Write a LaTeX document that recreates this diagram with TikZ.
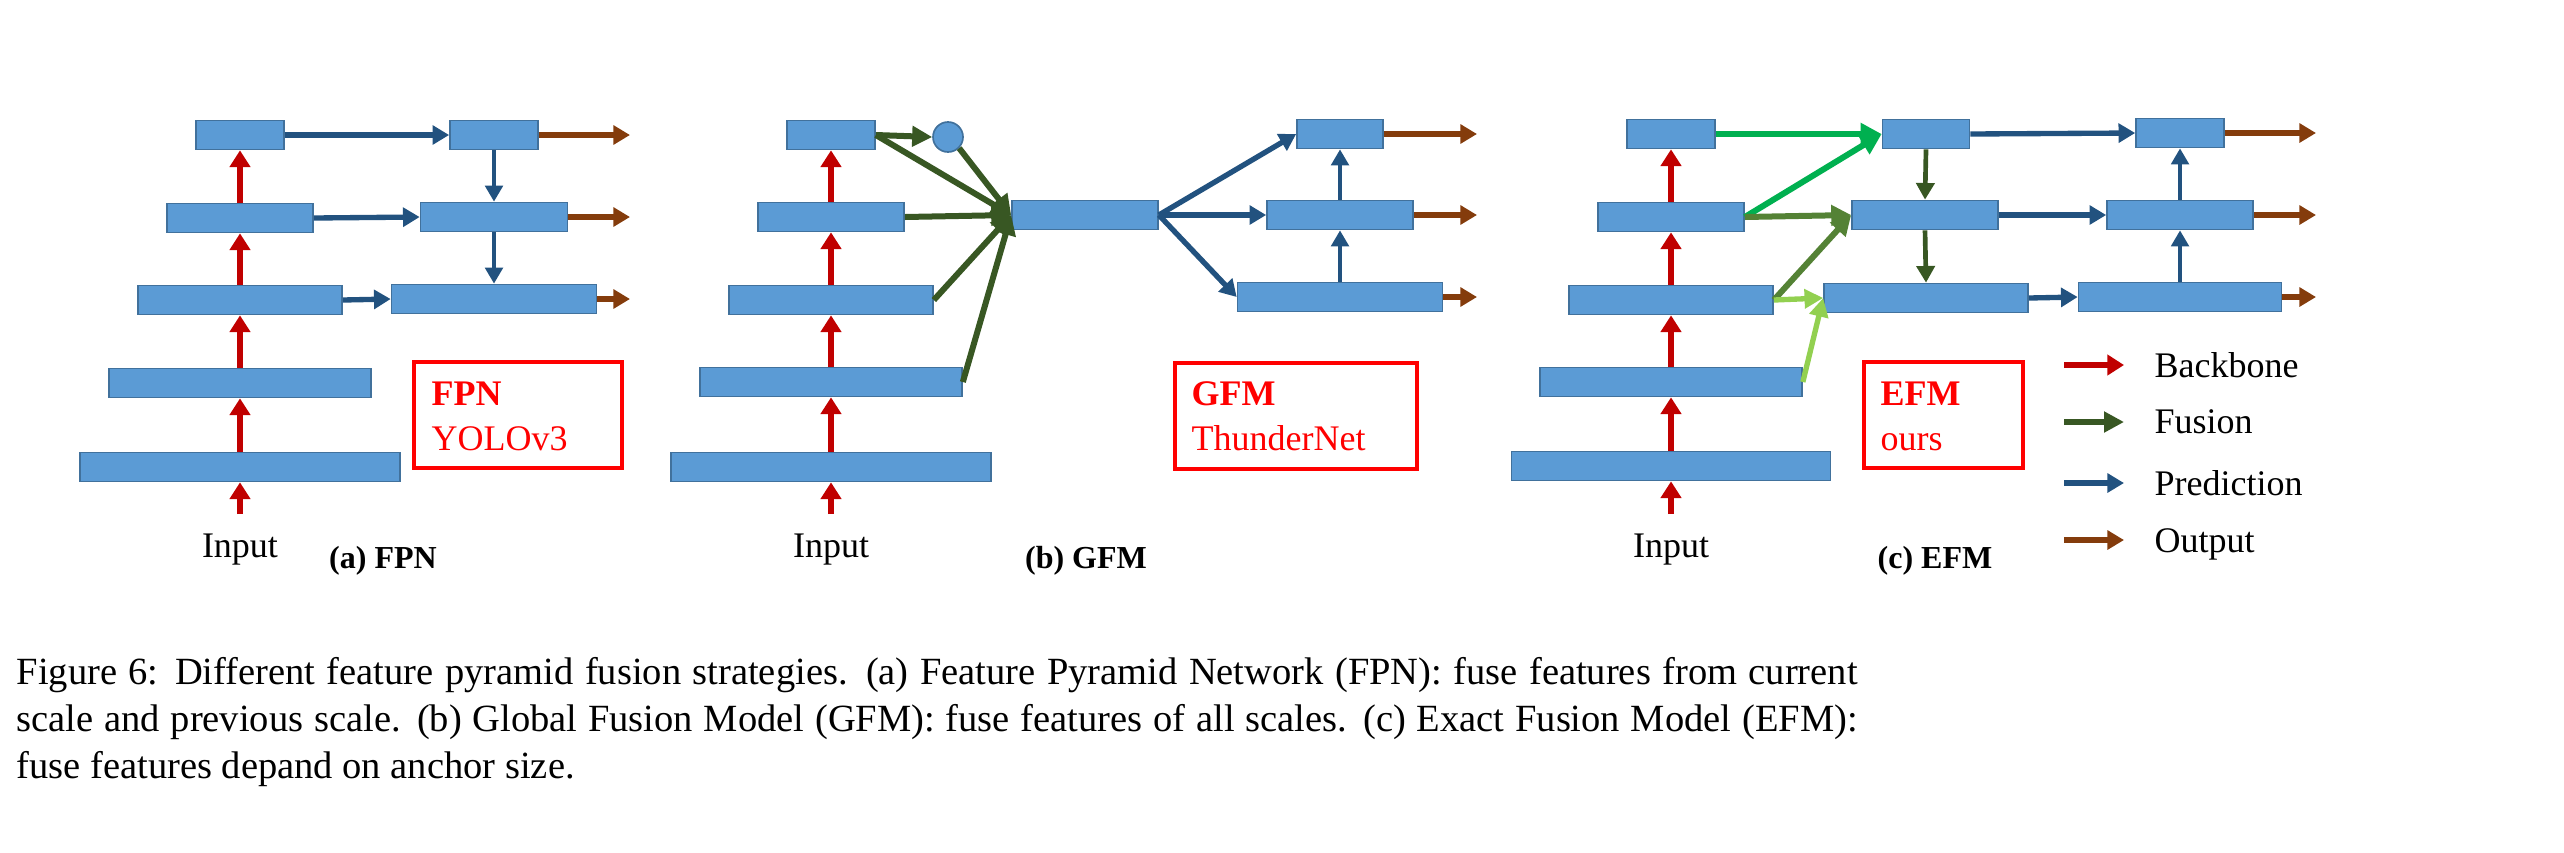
\documentclass[tikz,border=0pt]{standalone}
\usepackage{fontspec}
\setmainfont{Liberation Serif}
\usetikzlibrary{arrows.meta}
\definecolor{boxfill}{HTML}{5B9BD5}
\definecolor{boxline}{HTML}{41719C}
\definecolor{bbred}{HTML}{C00000}
\definecolor{fusgreen}{HTML}{385723}
\definecolor{predblue}{HTML}{22527F}
\definecolor{outbrown}{HTML}{843C0C}
\definecolor{brightgreen}{HTML}{00B050}
\definecolor{olivegreen}{HTML}{548235}
\definecolor{lightgreen}{HTML}{92D050}
\definecolor{boxred}{HTML}{FF0000}
\tikzset{
  fm/.style={draw=boxline, fill=boxfill, line width=0.5pt, inner sep=0pt, minimum height=8.7pt},
  bb/.style={draw=bbred, line width=1.8pt, -{Triangle[length=5pt,width=6pt]}},
  pr/.style={draw=predblue, line width=1.6pt, -{Triangle[length=5pt,width=5.6pt]}},
  prv/.style={draw=predblue, line width=1.2pt, -{Triangle[length=4.8pt,width=5.2pt]}},
  ou/.style={draw=outbrown, line width=1.6pt, -{Triangle[length=5pt,width=5.6pt]}},
  fu/.style={draw=fusgreen, line width=1.8pt, -{Triangle[length=6pt,width=6pt]}},
  fuv/.style={draw=fusgreen, line width=1.4pt, -{Triangle[length=5pt,width=5.4pt]}},
  fbright/.style={draw=brightgreen, line width=1.8pt, -{Triangle[length=6.3pt,width=6.3pt]}},
  folive/.style={draw=olivegreen, line width=1.8pt, -{Triangle[length=6pt,width=6pt]}},
  flight/.style={draw=lightgreen, line width=1.6pt, -{Triangle[length=5.6pt,width=5.6pt]}},
  redbox/.style={draw=boxred, line width=1.2pt, inner sep=0pt},
  lbl/.style={font=\fontsize{10.8pt}{13pt}\selectfont, inner sep=0pt},
  redlbl/.style={lbl, text=boxred},
  redbold/.style={lbl, text=boxred, font=\bfseries\fontsize{10.8pt}{13pt}\selectfont},
  ttl/.style={font=\bfseries\fontsize{9.6pt}{11pt}\selectfont, inner sep=0pt},
}
\newcommand\fmbox[4]{\node[fm, minimum width=#4*0.3pt] (#1) at (#2,#3) {};}
\begin{document}
\begin{tikzpicture}[x=0.3pt, y=-0.3pt]
\useasboundingbox (0,0) rectangle (2564,852);

% ---------------- panel (a) FPN ----------------
\fmbox{a1}{240}{135}{88}
\fmbox{a2}{240}{218}{146}
\fmbox{a3}{240}{300}{204}
\fmbox{a4}{240}{383}{262}
\fmbox{a5}{240}{467}{320}
\fmbox{ar1}{494}{135}{88}
\fmbox{ar2}{494}{217}{147}
\fmbox{ar3}{494}{299}{205}
\coordinate (ain) at (240,514);
\coordinate (ao1) at (630,135);
\coordinate (ao2) at (630,217);
\coordinate (ao3) at (630,299);
\draw[bb] (ain) -- (a5.south);
\draw[bb] (a5.north) -- (a4.south);
\draw[bb] (a4.north) -- (a3.south);
\draw[bb] (a3.north) -- (a2.south);
\draw[bb] (a2.north) -- (a1.south);
\draw[pr] (a1.east) -- (ar1.west);
\draw[pr] (a2.east) -- (ar2.west);
\draw[pr] (a3.east) -- (ar3.west);
\draw[prv] (ar1.south) -- (ar2.north);
\draw[prv] (ar2.south) -- (ar3.north);
\draw[ou] (ar1.east) -- (ao1);
\draw[ou] (ar2.east) -- (ao2);
\draw[ou] (ar3.east) -- (ao3);
\node[redbox, minimum width=208*0.3pt, minimum height=106*0.3pt] (fpnbox) at (518,415) {};
\node[redbold, anchor=base west] (fpnt) at (431,405) {FPN};
\node[redlbl, anchor=base west] (fpns) at (431,450) {YOLOv3};
\node[lbl, anchor=base] (ainl) at (240,557) {Input};
\node[ttl, anchor=base] (atitle) at (383,568) {(a) FPN};

% ---------------- panel (b) GFM ----------------
\fmbox{b1}{831}{135}{88}
\fmbox{b2}{831}{217}{146}
\fmbox{b3}{831}{300}{204}
\fmbox{b4}{831}{382}{262}
\fmbox{b5}{831}{467}{320}
\node[fm, circle, minimum size=30*0.3pt] (bc) at (948,137) {};
\fmbox{bm}{1085}{215}{146}
\fmbox{br1}{1340}{134}{86}
\fmbox{br2}{1340}{215}{146}
\fmbox{br3}{1340}{297}{205}
\coordinate (bin) at (831,514);
\coordinate (bo1) at (1477,134);
\coordinate (bo2) at (1477,215);
\coordinate (bo3) at (1477,297);
\draw[bb] (bin) -- (b5.south);
\draw[bb] (b5.north) -- (b4.south);
\draw[bb] (b4.north) -- (b3.south);
\draw[bb] (b3.north) -- (b2.south);
\draw[bb] (b2.north) -- (b1.south);
\draw[fu] (b1.east) -- (bc.west);
\draw[fu] (b1.east) -- (bm.west);
\draw[fu] (bc.south east) -- (bm.west);
\draw[fu] (b2.east) -- (bm.west);
\draw[fu] (b3.east) -- (bm.west);
\draw[fu] (b4.east) -- (bm.west);
\draw[pr] (bm.east) -- (br1.west);
\draw[pr] (bm.east) -- (br2.west);
\draw[pr] (bm.east) -- (br3.west);
\draw[prv] (br3.north) -- (br2.south);
\draw[prv] (br2.north) -- (br1.south);
\draw[ou] (br1.east) -- (bo1);
\draw[ou] (br2.east) -- (bo2);
\draw[ou] (br3.east) -- (bo3);
\node[redbox, minimum width=242*0.3pt, minimum height=106*0.3pt] (gfmbox) at (1296,416) {};
\node[redbold, anchor=base west] (gfmt) at (1191,405) {GFM};
\node[redlbl, anchor=base west] (gfms) at (1191,450) {ThunderNet};
\node[lbl, anchor=base] (binl) at (831,557) {Input};
\node[ttl, anchor=base] (btitle) at (1086,568) {(b) GFM};

% ---------------- panel (c) EFM ----------------
\fmbox{c1}{1671}{134}{88}
\fmbox{c2}{1671}{217}{146}
\fmbox{c3}{1671}{300}{204}
\fmbox{c4}{1671}{382}{262}
\fmbox{c5}{1671}{466}{319}
\fmbox{cm1}{1926}{134}{87}
\fmbox{cm2}{1925}{215}{146}
\fmbox{cm3}{1926}{298}{204}
\fmbox{cr1}{2180}{133}{88}
\fmbox{cr2}{2180}{215}{146}
\fmbox{cr3}{2180}{297}{203}
\coordinate (cin) at (1671,514);
\coordinate (co1) at (2316,133);
\coordinate (co2) at (2316,215);
\coordinate (co3) at (2316,297);
\draw[bb] (cin) -- (c5.south);
\draw[bb] (c5.north) -- (c4.south);
\draw[bb] (c4.north) -- (c3.south);
\draw[bb] (c3.north) -- (c2.south);
\draw[bb] (c2.north) -- (c1.south);
\draw[fbright] (c1.east) -- (cm1.west);
\draw[fbright] (c2.east) -- (cm1.west);
\draw[folive] (c2.east) -- (cm2.west);
\draw[folive] (c3.east) -- (cm2.west);
\draw[flight] (c3.east) -- (cm3.west);
\draw[flight] (c4.east) -- (cm3.west);
\draw[fuv] (cm1.south) -- (cm2.north);
\draw[fuv] (cm2.south) -- (cm3.north);
\draw[pr] (cm1.east) -- (cr1.west);
\draw[pr] (cm2.east) -- (cr2.west);
\draw[pr] (cm3.east) -- (cr3.west);
\draw[prv] (cr3.north) -- (cr2.south);
\draw[prv] (cr2.north) -- (cr1.south);
\draw[ou] (cr1.east) -- (co1);
\draw[ou] (cr2.east) -- (co2);
\draw[ou] (cr3.east) -- (co3);
\node[redbox, minimum width=159*0.3pt, minimum height=106*0.3pt] (efmbox) at (1943.5,415) {};
\node[redbold, anchor=base west] (efmt) at (1880,405) {EFM};
\node[redlbl, anchor=base west] (efms) at (1880,450) {ours};
\node[lbl, anchor=base] (cinl) at (1671,557) {Input};
\node[ttl, anchor=base] (ctitle) at (1935,568) {(c) EFM};

% ---------------- legend ----------------
\coordinate (l1s) at (2064,365); \coordinate (l1e) at (2124,365);
\coordinate (l2s) at (2064,422); \coordinate (l2e) at (2124,422);
\coordinate (l3s) at (2064,483); \coordinate (l3e) at (2124,483);
\coordinate (l4s) at (2064,540); \coordinate (l4e) at (2124,540);
\draw[bb] (l1s) -- (l1e);
\draw[fu] (l2s) -- (l2e);
\draw[pr] (l3s) -- (l3e);
\draw[ou] (l4s) -- (l4e);
\node[lbl, anchor=base west] (lg1) at (2154,377) {Backbone};
\node[lbl, anchor=base west] (lg2) at (2154,433) {Fusion};
\node[lbl, anchor=base west] (lg3) at (2154,495) {Prediction};
\node[lbl, anchor=base west] (lg4) at (2154,552) {Output};

% ---------------- caption ----------------
\node[anchor=base west, inner sep=0pt, text width=1841*0.3pt, align=justify,
      font=\fontsize{11.55pt}{14.1pt}\selectfont] (cap) at (16,684)
{Figure 6: Different feature pyramid fusion strategies. (a) Feature Pyramid Network (FPN): fuse features from current\linebreak
scale and previous scale. (b) Global Fusion Model (GFM): fuse features of all scales. (c) Exact Fusion Model (EFM):\linebreak
fuse features depand on anchor size.};
\end{tikzpicture}
\end{document}
